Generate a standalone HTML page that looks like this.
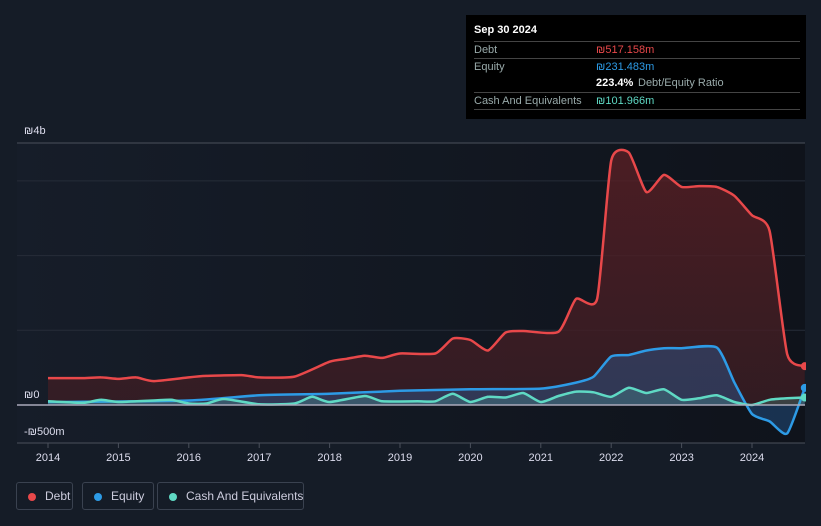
<!DOCTYPE html>
<html><head><meta charset="utf-8"><style>
body{margin:0;background:#151c27;font-family:"Liberation Sans",sans-serif;width:821px;height:526px;overflow:hidden;position:relative}
.tip{position:absolute;left:466px;top:15px;width:340px;height:104px;background:#000;color:#fff;font-size:11px}
.row{position:absolute;left:8px;width:326px;border-top:1px solid #444;height:17px;line-height:17px;color:#9aa}
.lg{position:absolute;top:482px;height:28px;border:1px solid #3a4250;border-radius:3px;color:#ccd;font-size:12px;line-height:26px;box-sizing:border-box;padding-left:28px;white-space:nowrap;overflow:hidden}
.lg i{position:absolute;left:11px;top:10px;width:8px;height:8px;border-radius:50%}
</style></head><body>
<svg id="c" width="821" height="526" style="position:absolute;left:0;top:0">
<defs>
<linearGradient id="bg" x1="0" x2="1"><stop offset="0" stop-color="#161d29"/><stop offset="1" stop-color="#0f131b"/></linearGradient>
<linearGradient id="dg" x1="0" y1="0" x2="0" y2="1"><stop offset="0" stop-color="#5a1f24" stop-opacity=".8"/><stop offset="1" stop-color="#3a1d24" stop-opacity=".8"/></linearGradient>
<clipPath id="cp"><rect x="0" y="0" width="806" height="526"/></clipPath>
</defs>
<rect x="17" y="143" width="788" height="300" fill="url(#bg)"/>
<g id="grid"></g><g id="marks" clip-path="url(#cp)"></g>
</svg>
<div class="tip">
<div style="position:absolute;left:8px;top:9px;font-size:11px;font-weight:bold">Sep 30 2024</div>
<div class="row" style="top:26px">Debt<span style="position:absolute;left:122px;color:#e8484a">₪517.158m</span></div>
<div class="row" style="top:43px">Equity<span style="position:absolute;left:122px;color:#2d9be6">₪231.483m</span></div>
<div class="row" style="top:60px;border-top:none"><span style="position:absolute;left:122px;color:#fff;font-weight:bold">223.4%</span><span style="position:absolute;left:164px">Debt/Equity Ratio</span></div>
<div class="row" style="top:77px">Cash And Equivalents<span style="position:absolute;left:122px;color:#5fd9c4">₪101.966m</span></div>
<div class="row" style="top:94px;height:0"></div>
</div>
<div class="lg" style="left:16px;width:57px"><i style="background:#e8484a"></i>Debt</div>
<div class="lg" style="left:82px;width:72px"><i style="background:#2d9be6"></i>Equity</div>
<div class="lg" style="left:157px;width:147px"><i style="background:#5fd9c4"></i>Cash And Equivalents</div>
<script>
const debtT=[2014,2014.5,2014.75,2015,2015.25,2015.5,2016,2016.25,2016.75,2017,2017.5,2018,2018.25,2018.5,2018.75,2019,2019.5,2019.75,2020,2020.25,2020.5,2020.75,2021.25,2021.5,2021.8,2022,2022.25,2022.5,2022.75,2023,2023.25,2023.5,2023.75,2024,2024.25,2024.5,2024.75];
const debtV=[0.36,0.36,0.37,0.35,0.37,0.32,0.37,0.39,0.40,0.37,0.38,0.58,0.62,0.66,0.63,0.69,0.69,0.89,0.87,0.73,0.97,0.99,0.98,1.42,1.42,3.27,3.38,2.85,3.08,2.92,2.93,2.92,2.8,2.54,2.33,0.68,0.52];
const eqT=[2014,2016,2017,2018,2019,2020,2021,2021.5,2021.75,2022,2022.25,2022.5,2022.75,2023,2023.5,2023.75,2024,2024.25,2024.5,2024.75];
const eqV=[0.04,0.06,0.13,0.15,0.19,0.21,0.22,0.3,0.38,0.65,0.67,0.73,0.76,0.76,0.77,0.3,-0.12,-0.22,-0.38,0.23];
const cashT=[2014,2014.5,2014.75,2015,2015.5,2015.75,2016,2016.25,2016.5,2017,2017.5,2017.75,2018,2018.5,2018.75,2019.25,2019.5,2019.75,2020,2020.25,2020.5,2020.75,2021,2021.25,2021.5,2021.75,2022,2022.25,2022.5,2022.75,2023,2023.25,2023.5,2023.75,2024,2024.25,2024.5,2024.75];
const cashV=[0.05,0.03,0.07,0.04,0.06,0.07,0.02,0.02,0.08,0.01,0.02,0.11,0.04,0.12,0.05,0.05,0.05,0.15,0.04,0.11,0.10,0.16,0.04,0.12,0.18,0.17,0.11,0.23,0.16,0.21,0.07,0.09,0.13,0.04,0.0,0.07,0.09,0.10];
const years=[2014,2015,2016,2017,2018,2019,2020,2021,2022,2023,2024];
const yTicks=[1,2,3];
const ns='http://www.w3.org/2000/svg';
const X=t=>48+(t-2014)*70.4, Y=v=>405-v*74.7;
function mk(tag,a,p){const e=document.createElementNS(ns,tag);for(const k in a)e.setAttribute(k,a[k]);p.appendChild(e);return e;}
const g=document.getElementById('grid'),m=document.getElementById('marks');
yTicks.forEach(v=>{const l=mk('line',{x1:17,x2:805,y1:Y(v),y2:Y(v),stroke:'#262d39','stroke-width':1},g);

});
mk('line',{x1:17,x2:805,y1:143,y2:143,stroke:'#4a505b'},g);
mk('line',{x1:17,x2:805,y1:443,y2:443,stroke:'#4a505b'},g);
function txt(x,y,s,anchor){const t=mk('text',{x:x,y:y,fill:'#dde','font-size':11,'text-anchor':anchor||'start','font-family':'Liberation Sans, sans-serif'},g);t.textContent=s;return t;}
let t1=txt(24,134,'₪4b');
let t2=txt(24,398,'₪0');
let t3=txt(24,435,'-₪500m');
years.forEach(y=>{mk('line',{x1:X(y),x2:X(y),y1:443,y2:448,stroke:'#4a505b'},g);
const t=txt(X(y),461,String(y),'middle');

});
function smooth(p){let d='M'+p[0][0].toFixed(1)+','+p[0][1].toFixed(1);
 for(let i=0;i<p.length-1;i++){const p0=p[i-1]||p[i],p1=p[i],p2=p[i+1],p3=p[i+2]||p2,k=0.1;
 d+='C'+(p1[0]+(p2[0]-p0[0])*k).toFixed(1)+','+(p1[1]+(p2[1]-p0[1])*k).toFixed(1)+' '+(p2[0]-(p3[0]-p1[0])*k).toFixed(1)+','+(p2[1]-(p3[1]-p1[1])*k).toFixed(1)+' '+p2[0].toFixed(1)+','+p2[1].toFixed(1);}
 return d;}
function series(T,V,col,fill,name){
 const pts=T.map((t,i)=>[X(t),Y(V[i])]);
 const d=smooth(pts);
 const a=mk('path',{d:d+'L'+pts[pts.length-1][0]+','+Y(0)+'L'+pts[0][0]+','+Y(0)+'Z',fill:fill},m);
 
 
 const l=mk('path',{d:d,fill:'none',stroke:col,'stroke-width':2.5,'stroke-linejoin':'round'},m);
 
 
 const c=mk('circle',{cx:pts[pts.length-1][0],cy:pts[pts.length-1][1],r:4,fill:col},m);
 
 
}
series(debtT,debtV,'#e8484a','url(#dg)','debt');
series(eqT,eqV,'#2d9be6','rgba(45,110,180,0.35)','equity');
series(cashT,cashV,'#5fd9c4','rgba(95,217,196,0.2)','cash');
mk('line',{x1:17,x2:805,y1:Y(0),y2:Y(0),stroke:'#aab','stroke-width':1.5},m);
</script>
</body></html>
